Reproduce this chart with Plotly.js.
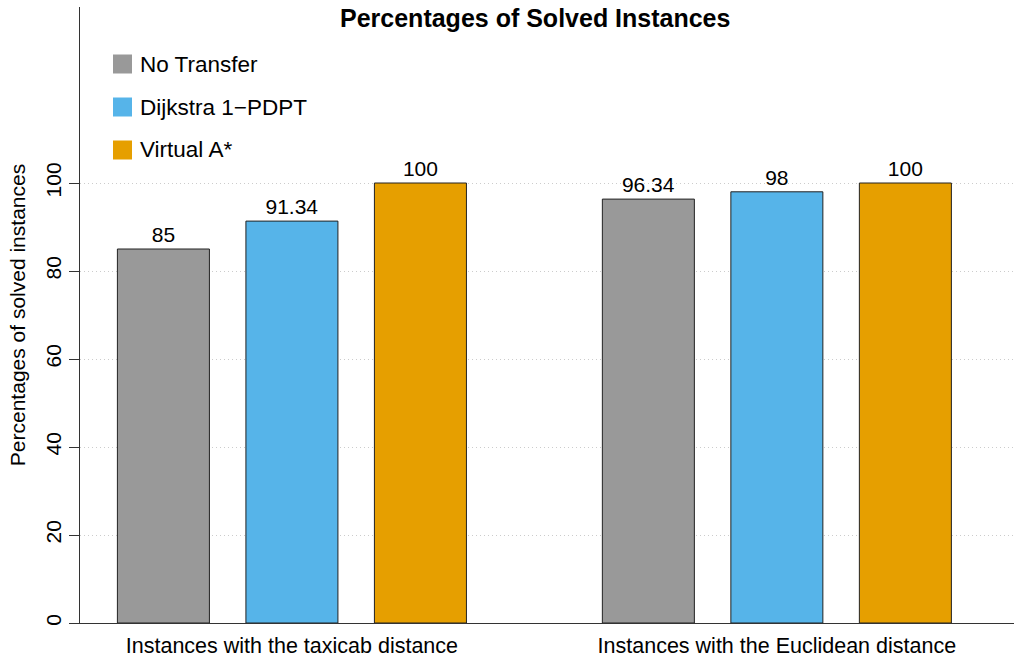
<!DOCTYPE html>
<html><head><meta charset="utf-8">
<script src="https://cdn.plot.ly/plotly-3.0.1.min.js"></script>
<style>html,body{margin:0;padding:0;background:#fff}#chart{width:1014px;height:658px}</style>
</head><body><div id="chart"></div>
<script>
var categories = ["Instances with the taxicab distance", "Instances with the Euclidean distance"];
var seriesNames = ["No Transfer", "Dijkstra 1\u2212PDPT", "Virtual A*"];
var noTransfer = [85, 96.34];
var dijkstra = [91.34, 98];
var virtualA = [100, 100];
var seriesValues = [noTransfer, dijkstra, virtualA];
var colors = ["#999999", "#56B4E9", "#E69F00"];
var yTicks = [0, 20, 40, 60, 80, 100];

var FONT = "Liberation Sans, Arial, Helvetica, sans-serif";
var traces = seriesValues.map(function(vals, i){
  return {
    type: "bar", x: categories, y: vals, name: seriesNames[i],
    marker: {color: colors[i], line: {color: "#222", width: 1}},
    text: vals.map(String), textposition: "outside", cliponaxis: false,
    textfont: {family: FONT, size: 21, color: "#000"},
    showlegend: false, hoverinfo: "skip"
  };
});

var shapes = [], annotations = [];
seriesNames.forEach(function(n, i){
  var yc = 64 + i * 43;
  shapes.push({type: "rect", xref: "paper", yref: "paper",
    x0: (113 - 80) / 934, x1: (132 - 80) / 934,
    y0: (658 - 35 - (yc + 9.5)) / 616, y1: (658 - 35 - (yc - 9.5)) / 616,
    fillcolor: colors[i], line: {width: 0}});
  annotations.push({xref: "paper", yref: "paper", x: (138 - 80) / 934, y: (658 - 35 - yc) / 616,
    xanchor: "left", yanchor: "middle", showarrow: false, text: n,
    font: {family: FONT, size: 22.5, color: "#000"}});
});
annotations.push({xref: "paper", yref: "paper", x: (535 - 80) / 934, y: (658 - 35 - 18) / 616,
  xanchor: "center", yanchor: "middle", showarrow: false,
  text: "<b>Percentages of Solved Instances</b>",
  font: {family: FONT, size: 25, color: "#000"}});

var layout = {
  width: 1014, height: 658,
  margin: {l: 80, r: 0, t: 7, b: 35},
  paper_bgcolor: "#fff", plot_bgcolor: "#fff",
  barmode: "group", bargap: 0.205, bargroupgap: 0.284,
  font: {family: FONT, color: "#000"},
  xaxis: {
    type: "category", range: [-0.437, 1.489],
    showline: true, linecolor: "#333", linewidth: 1,
    ticks: "", showgrid: false, ticklabelstandoff: 3,
    tickfont: {family: FONT, size: 21.5, color: "#000"}
  },
  yaxis: {
    range: [0, 140], tickvals: yTicks, ticktext: yTicks.map(String),
    showline: true, linecolor: "#333", linewidth: 1,
    ticks: "outside", ticklen: 10, tickcolor: "#333",
    tickangle: -90, tickfont: {family: FONT, size: 21, color: "#000"},
    showgrid: true, gridcolor: "#cccccc", griddash: "1px,3px", gridwidth: 1,
    zeroline: false,
    title: {text: "Percentages of solved instances", font: {family: FONT, size: 21, color: "#000"}, standoff: 10}
  },
  shapes: shapes, annotations: annotations
};
Plotly.newPlot("chart", traces, layout, {staticPlot: true, displayModeBar: false});
</script></body></html>
